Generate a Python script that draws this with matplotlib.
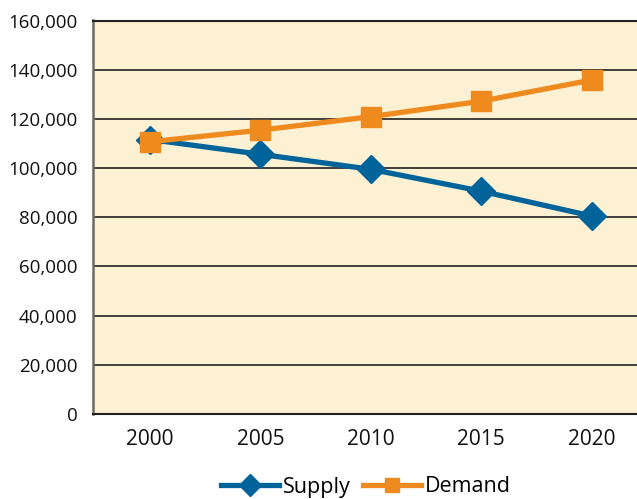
import matplotlib
matplotlib.use("Agg")
import matplotlib.pyplot as plt
from matplotlib.ticker import FuncFormatter

plt.rcParams['font.family'] = ['Open Sans', 'DejaVu Sans']

years = ['2000', '2005', '2010', '2015', '2020']
supply = [111600, 105600, 99500, 90600, 80500]
demand = [110700, 115400, 120900, 127200, 135800]

blue = '#00639a'
orange = '#ee8a1e'

fig = plt.figure(figsize=(6.37, 4.99), dpi=100)
ax = fig.add_axes([93 / 637, 1 - 414 / 499, 1 - 93 / 637, (414 - 20.5) / 499])
ax.set_facecolor('#fdf1d3')

x = range(len(years))
ax.plot(x, supply, color=blue, lw=3.8, marker='D', ms=14.5, label='Supply', zorder=3)
ax.plot(x, demand, color=orange, lw=3.8, marker='s', ms=14, label='Demand', zorder=4)

ax.set_ylim(0, 160000)
ax.set_yticks(range(0, 160001, 20000))
ax.yaxis.set_major_formatter(FuncFormatter(lambda v, p: f'{int(v):,}'))
ax.set_xlim(-0.516, 4.41)
ax.set_xticks(list(x))
ax.set_xticklabels(years)
ax.grid(axis='y', color='#222222', lw=1.2)
ax.set_axisbelow(True)
ax.tick_params(length=0, colors='#111111')
ax.tick_params(axis='y', pad=11, labelsize=13.5)
ax.tick_params(axis='x', pad=11, labelsize=15)

ax.spines['right'].set_visible(False)
ax.spines['left'].set_color('#6e6a60')
ax.spines['left'].set_linewidth(1.8)
ax.spines['bottom'].set_color('#222222')
ax.spines['bottom'].set_linewidth(1.5)
ax.spines['top'].set_color('#222222')
ax.spines['top'].set_linewidth(1.5)

fig.legend(loc='center', bbox_to_anchor=(366 / 637, 1 - 487 / 499), ncol=2,
           frameon=False, fontsize=15.5, handlelength=2.7, handletextpad=0.2,
           columnspacing=0.55, borderaxespad=0, markerscale=0.75)

fig.savefig('out.png', dpi=100)
